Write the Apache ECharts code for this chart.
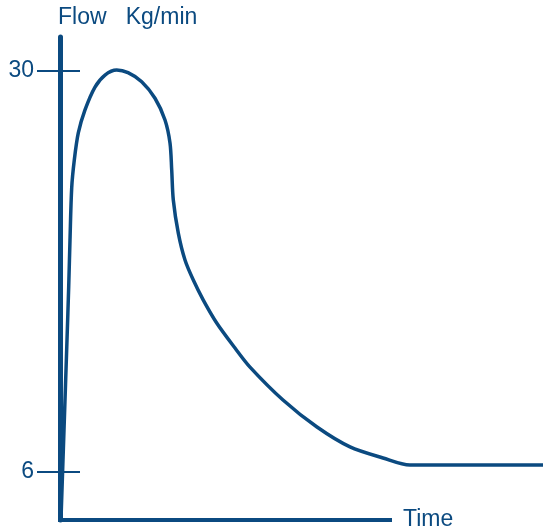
<!DOCTYPE html>
<html>
<head>
<meta charset="utf-8">
<script src="https://cdn.jsdelivr.net/npm/echarts@6/dist/echarts.min.js"></script>
<style>html,body{margin:0;padding:0;background:#fff}#c{width:543px;height:528px}</style>
</head>
<body>
<div id="c"></div>
<script>
// Time (arbitrary units) and Flow (Kg/min)
var timeValues = [0.1, 0.4, 0.7, 0.87, 1.0, 1.17, 1.43, 1.83, 2.5, 3.5, 4.5, 5.67, 6.8, 8.17, 9.5, 10.5, 11.0, 11.17, 11.33, 11.83, 12.5, 13.33, 14.33, 15.67, 17.5, 19.0, 22.3, 25.7, 29.0, 32.3, 35.0, 48.3];
var flowValues = [3.19, 8.51, 13.90, 17.07, 19.89, 23.00, 24.67, 26.29, 27.67, 29.04, 29.76, 30.06, 29.90, 29.36, 28.37, 27.07, 25.69, 24.08, 22.28, 20.30, 18.69, 17.49, 16.29, 14.92, 13.42, 12.28, 10.31, 8.69, 7.50, 6.84, 6.42, 6.42];
var timeAxisRange = [0, 33.0];
var yTickValues = [6, 30];
var yTickLabels = ['6', '30'];
var yName = 'Flow   Kg/min';
var xName = 'Time';

var color = '#0b4a80';
var font = 'Liberation Sans, Arial, sans-serif';
var yMin = 3.127, yMax = 32.035, xMin = 0, xMax = 48.3;

var data = timeValues.map(function (t, i) { return [t, flowValues[i]]; });
var axisData = timeAxisRange.map(function (t) { return [t, yMin]; });

var chart = echarts.init(document.getElementById('c'), null, {renderer: 'canvas'});
chart.setOption({
  animation: false,
  grid: {left: 60, right: 0, top: 37, bottom: 8, containLabel: false},
  xAxis: {
    type: 'value', min: xMin, max: xMax,
    axisLine: {show: false},
    axisTick: {show: false}, axisLabel: {show: false}, splitLine: {show: false}
  },
  yAxis: [{
    type: 'value', min: yMin, max: yMax, position: 'left',
    name: yName, nameLocation: 'end', nameGap: 19,
    nameTextStyle: {color: color, fontSize: 23, fontFamily: font, verticalAlign: 'middle', align: 'left', padding: [0, 0, 0, -2]},
    axisLine: {show: true, onZero: false, lineStyle: {color: color, width: 5}},
    axisTick: {show: true, length: 23, customValues: yTickValues, lineStyle: {color: color, width: 2}},
    axisLabel: {show: true, margin: 26, customValues: yTickValues, color: color, fontSize: 23, fontFamily: font,
      formatter: function (v) { var i = yTickValues.indexOf(v); return i >= 0 ? yTickLabels[i] : ''; }},
    splitLine: {show: false}
  }, {
    type: 'value', min: yMin, max: yMax, position: 'left', offset: 0,
    axisLine: {show: false},
    axisTick: {show: true, inside: true, length: 20, customValues: yTickValues, lineStyle: {color: color, width: 2}},
    axisLabel: {show: false}, splitLine: {show: false}
  }],
  series: [{
    name: xName, type: 'line', data: axisData, xAxisIndex: 0, yAxisIndex: 0,
    symbol: 'none', clip: false, silent: true,
    lineStyle: {color: color, width: 4, cap: 'square'},
    endLabel: {show: true, formatter: xName, color: color, fontSize: 23, fontFamily: font, distance: 13}
  }, {
    type: 'line', data: data, xAxisIndex: 0, yAxisIndex: 0,
    symbol: 'none', smooth: 0.3, clip: false,
    lineStyle: {color: color, width: 3.5}
  }]
});
</script>
</body>
</html>
